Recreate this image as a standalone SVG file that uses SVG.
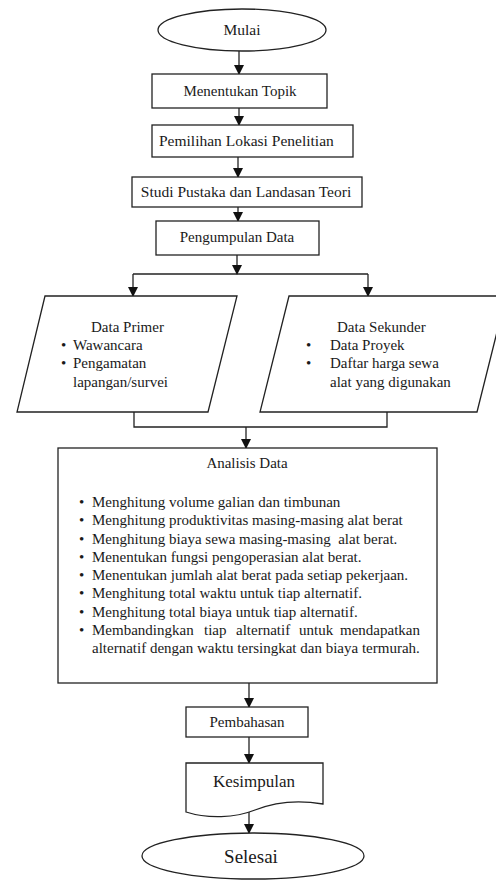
<svg xmlns="http://www.w3.org/2000/svg" width="496" height="880" viewBox="0 0 496 880">
<defs>
<marker id="ah" markerUnits="userSpaceOnUse" markerWidth="10" markerHeight="11" refX="9" refY="5" orient="auto">
<path d="M0,0 L10,5 L0,10 Z" fill="#111"/>
</marker>
<style>
.s{fill:#fff;stroke:#222;stroke-width:1.3}
.c{fill:none;stroke:#222;stroke-width:1.3}
.a{fill:none;stroke:#222;stroke-width:1.3;marker-end:url(#ah)}
text{font-family:"Liberation Serif","Times New Roman",serif;fill:#1a1a1a;font-size:15px}
.m{text-anchor:middle}
</style>
</defs>
<rect width="496" height="880" fill="#fff"/>

<g id="connectors">
<line class="a" x1="239" y1="51" x2="239" y2="74"/>
<line class="a" x1="239" y1="108" x2="239" y2="125"/>
<line class="a" x1="238" y1="157" x2="238" y2="177"/>
<line class="a" x1="238" y1="207" x2="238" y2="221"/>
<line class="a" x1="237" y1="255" x2="237" y2="274"/>
<line class="c" x1="133" y1="274" x2="368" y2="274"/>
<line class="a" x1="133" y1="274" x2="133" y2="296"/>
<line class="a" x1="368" y1="274" x2="368" y2="296"/>
<polyline class="c" points="134,408 134,427 387,427 387,410"/>
<line class="a" x1="246" y1="427" x2="246" y2="448"/>
<line class="a" x1="249" y1="683" x2="249" y2="707"/>
<line class="a" x1="249" y1="737" x2="249" y2="763"/>
<line class="a" x1="249" y1="812" x2="249" y2="833"/>
</g>

<g id="mulai">
<ellipse class="s" cx="242" cy="30" rx="84" ry="21"/>
<text class="m" x="242" y="35" style="font-size:15.5px">Mulai</text>
</g>

<g id="topik">
<rect class="s" x="152" y="74" width="175" height="34"/>
<text class="m" x="240" y="96">Menentukan Topik</text>
</g>

<g id="lokasi">
<rect class="s" x="152" y="125" width="201" height="32"/>
<text x="159" y="146" style="font-size:15.5px">Pemilihan Lokasi Penelitian</text>
</g>

<g id="studi">
<rect class="s" x="132" y="177" width="230" height="30"/>
<text class="m" x="246" y="197" style="font-size:15.5px">Studi Pustaka dan Landasan Teori</text>
</g>

<g id="pengumpulan">
<rect class="s" x="156" y="221" width="163" height="34"/>
<text class="m" x="237" y="242">Pengumpulan Data</text>
</g>

<g id="primer">
<polygon class="s" points="45,296 237,296 208,412 17,412"/>
<text x="91" y="332">Data Primer</text>
<text x="61" y="350">•</text>
<text x="73" y="350">Wawancara</text>
<text x="61" y="368">•</text>
<text x="73" y="368">Pengamatan</text>
<text x="73" y="387">lapangan/survei</text>
</g>

<g id="sekunder">
<polygon class="s" points="289,296 506,296 477,412 260,412"/>
<text x="337" y="332">Data Sekunder</text>
<text x="306" y="350">•</text>
<text x="330" y="350">Data Proyek</text>
<text x="306" y="368">•</text>
<text x="330" y="368">Daftar harga sewa</text>
<text x="330" y="387">alat yang digunakan</text>
</g>

<g id="analisis">
<rect class="s" x="58" y="448" width="379" height="235"/>
<text class="m" x="247" y="468">Analisis Data</text>
<g>
<text x="79" y="507">•</text><text x="92" y="507">Menghitung volume galian dan timbunan</text>
<text x="79" y="525">•</text><text x="92" y="525">Menghitung produktivitas masing-masing alat berat</text>
<text x="79" y="544">•</text><text x="92" y="544" xml:space="preserve">Menghitung biaya sewa masing-masing  alat berat.</text>
<text x="79" y="562">•</text><text x="92" y="562">Menentukan fungsi pengoperasian alat berat.</text>
<text x="79" y="580">•</text><text x="92" y="580">Menentukan jumlah alat berat pada setiap pekerjaan.</text>
<text x="79" y="598">•</text><text x="92" y="598">Menghitung total waktu untuk tiap alternatif.</text>
<text x="79" y="617">•</text><text x="92" y="617">Menghitung total biaya untuk tiap alternatif.</text>
<text x="79" y="635">•</text>
<text y="635"><tspan x="92">Membandingkan</tspan><tspan x="204">tiap</tspan><tspan x="236">alternatif</tspan><tspan x="299">untuk</tspan><tspan x="420" text-anchor="end">mendapatkan</tspan></text>
<text x="92" y="653">alternatif dengan waktu tersingkat dan biaya termurah.</text>
</g>
</g>

<g id="pembahasan">
<rect class="s" x="186" y="707" width="122" height="30"/>
<text class="m" x="247" y="727">Pembahasan</text>
</g>

<g id="kesimpulan">
<path class="s" d="M186,763 H323 V804 C300,800 275,802 255,810 C235,818 208,819 186,812 Z"/>
<text class="m" x="254" y="787" style="font-size:17px">Kesimpulan</text>
</g>

<g id="selesai">
<ellipse class="s" cx="253" cy="856" rx="111" ry="23"/>
<text class="m" x="251" y="863" style="font-size:19px">Selesai</text>
</g>
</svg>
